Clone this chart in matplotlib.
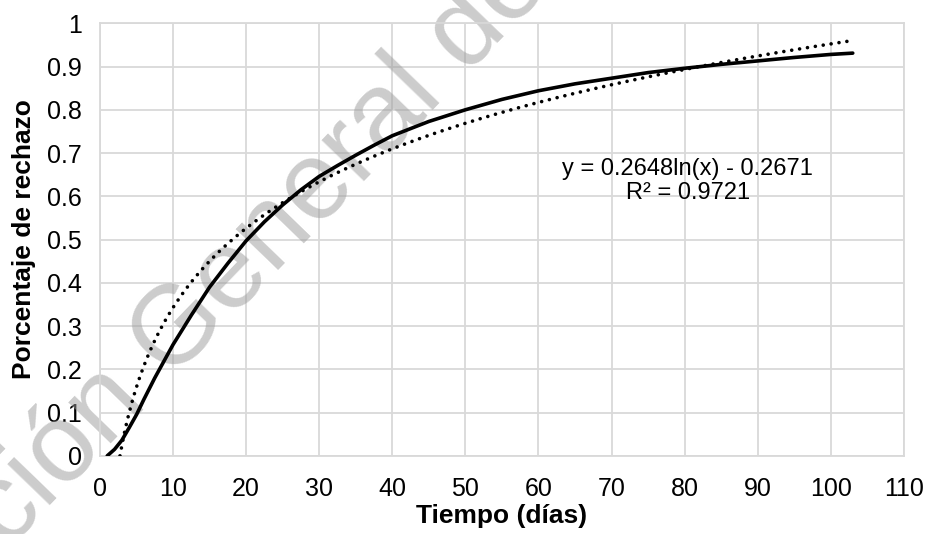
import numpy as np
import matplotlib.pyplot as plt

plt.rcParams['font.family'] = ['Liberation Sans', 'DejaVu Sans']

# porcentaje de rechazo medido contra el tiempo
dias = [1, 2, 3, 4, 5, 6, 7.5, 10, 12.5, 15, 17.5, 20, 22.5, 25, 27.5, 30, 32.5,
        35, 37.5, 40, 45, 50, 55, 60, 65, 70, 75, 80, 85, 90, 95, 100, 103]
rechazo = [0.0, 0.015, 0.036, 0.065, 0.095, 0.13, 0.18, 0.257, 0.325, 0.39, 0.445,
           0.497, 0.541, 0.58, 0.615, 0.646, 0.671, 0.695, 0.718, 0.74, 0.773, 0.8,
           0.824, 0.844, 0.86, 0.873, 0.886, 0.896, 0.905, 0.913, 0.921, 0.928, 0.931]

# tendencia logaritmica y = a ln(x) + b
a, b = 0.2648, -0.2671
r2 = 0.9721

xticks = np.arange(0, 111, 10)
yticks = np.round(np.arange(0, 1.01, 0.1), 1)

fig = plt.figure(figsize=(9.27, 5.34), dpi=100)
ax = fig.add_axes([0.1078, 0.1464, 0.8673, 0.810])

# rejilla a mano para que quede debajo de la marca de agua
for xv in xticks:
    ax.axvline(xv, color="#d9d9d9", lw=1.3, zorder=0.5)
for yv in yticks:
    ax.axhline(yv, color="#d9d9d9", lw=1.3, zorder=0.5)

ax.plot(dias, rechazo, color="black", lw=2.6, solid_capstyle="round",
        solid_joinstyle="round", zorder=3)

xt = np.linspace(min(dias), max(dias), 400)
ax.plot(xt, a*np.log(xt) + b, color="black", lw=2.6,
        linestyle=(0, (0.01, 2.2)), dash_capstyle="round", zorder=3)

ax.text(80.4, 0.635, "y = %.4fln(x) - %.4f\nR² = %.4f" % (a, -b, r2),
        ha="center", va="center", fontsize=17, linespacing=1.12, zorder=4)

ax.set_xlim(0, 110)
ax.set_ylim(0, 1)
ax.set_xticks(xticks)
ax.set_yticks(yticks)
ax.set_yticklabels(["%g" % v for v in yticks])
ax.set_xticklabels(["%d" % v for v in xticks])
ax.tick_params(length=0, labelsize=18)
ax.tick_params(axis="x", pad=15)
ax.tick_params(axis="y", pad=13)
for s in ax.spines.values():
    s.set_color("#d9d9d9")
    s.set_linewidth(1.3)

ax.set_xlabel("Tiempo (días)", fontsize=19, fontweight="bold")
ax.set_ylabel("Porcentaje de rechazo", fontsize=19, fontweight="bold")
ax.xaxis.set_label_coords(0.5, -0.112)
ax.yaxis.set_label_coords(-0.079, 0.5)

# marca de agua
ax.text(0.418, 0.705, "Dirección General de Bibliotecas", fontsize=80,
        color="#9a9a9a", alpha=0.5, rotation=46, ha="center", va="baseline",
        rotation_mode="anchor", transform=fig.transFigure, clip_on=False,
        zorder=2.2)

fig.savefig("out.png", dpi=100)
